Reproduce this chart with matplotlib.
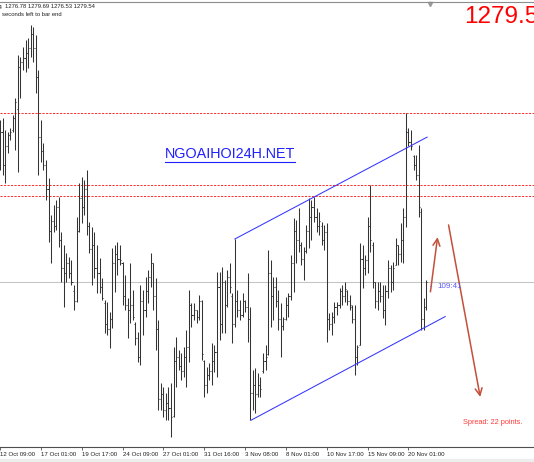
import matplotlib
matplotlib.use('Agg')
import matplotlib.pyplot as plt
from matplotlib.collections import LineCollection
from matplotlib.patches import Rectangle

# XAUUSD H4 bars, oldest first
opens = [1292.5, 1295.5, 1292.0, 1294.0, 1295.2, 1295.8, 1297.0, 1298.0, 1302.5, 1303.0,
         1303.5, 1304.0, 1304.5, 1306.0, 1304.5, 1301.4, 1295.0, 1293.5, 1292.0, 1289.5,
         1285.0, 1286.0, 1285.5, 1287.5, 1284.0, 1281.0, 1280.5, 1281.5, 1280.5, 1278.5,
         1277.5, 1285.0, 1288.5, 1287.5, 1289.5, 1285.5, 1283.0, 1283.5, 1281.0, 1280.5,
         1279.0, 1277.2, 1275.0, 1274.5, 1275.5, 1281.5, 1282.5, 1282.0, 1281.5, 1278.0,
         1277.0, 1276.5, 1277.0, 1275.0, 1273.5, 1271.5, 1277.5, 1276.5, 1278.5, 1280.0,
         1281.5, 1278.0, 1274.5, 1267.0, 1267.5, 1265.8, 1266.5, 1266.0, 1265.2, 1271.0,
         1271.5, 1270.5, 1270.0, 1271.5, 1272.5, 1277.0, 1276.0, 1276.5, 1275.8, 1277.5,
         1271.0, 1268.5, 1269.5, 1270.0, 1271.0, 1272.0, 1279.0, 1275.0, 1279.5, 1277.0,
         1280.0, 1278.0, 1275.0, 1277.5, 1276.5, 1276.0, 1277.5, 1276.8, 1275.5, 1267.6,
         1268.5, 1267.5, 1268.5, 1270.0, 1271.0, 1271.8, 1280.5, 1278.0, 1279.0, 1277.5,
         1275.5, 1274.8, 1275.5, 1277.0, 1278.0, 1281.5, 1285.0, 1284.0, 1283.5, 1282.0,
         1282.8, 1285.0, 1286.5, 1287.5, 1286.5, 1285.5, 1285.5, 1284.0, 1284.8, 1275.5,
         1275.0, 1275.8, 1276.8, 1277.0, 1278.5, 1278.0, 1278.5, 1277.5, 1276.8, 1275.5,
         1271.5, 1272.8, 1282.0, 1281.0, 1281.8, 1285.5, 1283.5, 1279.5, 1277.5, 1278.5,
         1278.0, 1276.5, 1278.5, 1281.0, 1279.5, 1281.3, 1283.5, 1282.5, 1284.0, 1286.5,
         1295.5, 1294.5, 1293.0, 1292.0, 1291.0, 1287.0, 1275.5, 1276.78]
highs = [1296.8, 1297.0, 1295.8, 1295.6, 1296.0, 1297.4, 1299.2, 1303.8, 1303.6, 1304.6,
         1305.4, 1305.6, 1307.0, 1306.8, 1305.9, 1302.2, 1296.8, 1294.4, 1292.6, 1290.6,
         1286.7, 1287.7, 1288.3, 1288.6, 1284.9, 1283.5, 1282.6, 1282.2, 1281.8, 1279.2,
         1286.4, 1290.1, 1290.7, 1290.4, 1291.5, 1285.9, 1285.4, 1284.8, 1283.5, 1282.1,
         1279.9, 1277.6, 1277.4, 1276.3, 1283.1, 1283.5, 1283.8, 1283.5, 1281.6, 1280.2,
         1277.8, 1281.5, 1278.6, 1275.2, 1274.1, 1279.2, 1278.6, 1280.0, 1280.8, 1282.6,
         1281.5, 1279.9, 1275.4, 1268.7, 1268.3, 1267.6, 1268.3, 1268.7, 1272.5, 1273.6,
         1272.2, 1271.9, 1272.5, 1274.4, 1278.6, 1277.2, 1277.2, 1276.5, 1278.1, 1277.6,
         1271.2, 1270.4, 1270.8, 1273.0, 1272.8, 1280.6, 1280.6, 1281.1, 1279.7, 1280.8,
         1281.5, 1278.3, 1284.1, 1278.6, 1277.6, 1278.3, 1277.6, 1280.5, 1276.8, 1270.1,
         1270.3, 1269.8, 1269.3, 1271.9, 1272.8, 1282.9, 1281.8, 1280.0, 1280.0, 1278.6,
         1277.2, 1275.8, 1277.9, 1278.3, 1282.4, 1286.3, 1286.1, 1287.4, 1283.8, 1283.2,
         1285.6, 1288.5, 1288.3, 1288.6, 1287.4, 1287.0, 1285.9, 1285.6, 1285.8, 1276.2,
         1276.3, 1277.4, 1277.4, 1278.9, 1279.2, 1279.5, 1278.6, 1278.1, 1277.0, 1277.0,
         1272.8, 1283.7, 1283.5, 1282.4, 1286.4, 1289.9, 1283.8, 1279.5, 1279.5, 1279.5,
         1279.2, 1279.2, 1281.8, 1281.3, 1281.6, 1284.2, 1283.5, 1285.8, 1287.4, 1297.6,
         1296.0, 1295.8, 1293.1, 1293.1, 1294.2, 1287.4, 1277.8, 1279.69]
lows = [1291.5, 1291.0, 1290.1, 1293.3, 1294.7, 1295.6, 1293.6, 1291.3, 1299.2, 1302.2,
        1302.0, 1302.4, 1303.6, 1303.0, 1299.7, 1291.0, 1292.3, 1291.5, 1288.3, 1283.8,
        1281.5, 1284.9, 1285.1, 1283.2, 1279.5, 1276.8, 1279.5, 1279.9, 1279.2, 1276.5,
        1277.4, 1284.9, 1285.8, 1286.7, 1284.5, 1282.6, 1279.2, 1279.9, 1278.3, 1278.3,
        1277.6, 1274.0, 1273.8, 1272.4, 1274.6, 1278.4, 1280.2, 1281.3, 1277.0, 1276.5,
        1273.5, 1275.1, 1275.4, 1272.8, 1270.9, 1270.6, 1273.8, 1275.8, 1277.2, 1279.0,
        1276.5, 1272.2, 1265.8, 1265.8, 1265.1, 1264.7, 1264.7, 1262.9, 1265.1, 1268.3,
        1270.1, 1269.0, 1269.3, 1268.3, 1270.9, 1274.7, 1275.4, 1275.1, 1275.4, 1271.2,
        1267.2, 1267.6, 1269.0, 1268.5, 1269.9, 1269.3, 1273.3, 1274.0, 1274.0, 1276.8,
        1278.3, 1273.0, 1274.7, 1275.8, 1275.4, 1275.8, 1276.3, 1273.1, 1264.7, 1265.8,
        1265.5, 1267.2, 1267.2, 1269.8, 1270.1, 1271.7, 1274.7, 1275.4, 1276.8, 1274.4,
        1271.5, 1274.4, 1275.4, 1275.8, 1277.6, 1278.4, 1281.5, 1282.7, 1281.3, 1279.7,
        1282.6, 1283.1, 1284.0, 1285.9, 1284.8, 1284.5, 1283.5, 1282.9, 1273.1, 1274.4,
        1273.8, 1275.1, 1276.0, 1276.7, 1277.0, 1277.4, 1277.0, 1276.5, 1275.1, 1269.5,
        1270.6, 1272.8, 1278.9, 1280.2, 1280.5, 1282.7, 1278.9, 1276.7, 1276.5, 1277.4,
        1275.6, 1274.9, 1277.8, 1278.4, 1278.6, 1281.3, 1281.3, 1281.6, 1281.5, 1285.4,
        1294.0, 1293.6, 1291.5, 1290.4, 1286.4, 1274.4, 1274.4, 1276.53]
closes = [1295.5, 1292.0, 1294.0, 1295.2, 1295.6, 1297.0, 1298.8, 1302.5, 1303.0, 1303.5,
          1304.0, 1304.5, 1306.0, 1304.5, 1301.4, 1295.0, 1293.5, 1292.0, 1289.5, 1285.0,
          1286.0, 1285.5, 1287.5, 1284.0, 1281.0, 1280.5, 1281.5, 1280.5, 1279.5, 1277.5,
          1285.0, 1288.5, 1287.5, 1289.5, 1285.5, 1283.0, 1283.5, 1281.0, 1280.5, 1279.0,
          1277.8, 1275.0, 1274.5, 1275.5, 1281.5, 1282.5, 1282.0, 1281.8, 1278.0, 1277.0,
          1276.5, 1277.0, 1275.8, 1273.5, 1271.5, 1277.5, 1276.5, 1278.5, 1280.0, 1281.5,
          1278.0, 1274.5, 1267.0, 1267.5, 1265.8, 1266.5, 1266.0, 1265.0, 1271.0, 1271.5,
          1270.5, 1270.0, 1271.5, 1272.5, 1277.0, 1276.0, 1276.5, 1275.8, 1277.5, 1271.8,
          1268.5, 1269.5, 1270.0, 1271.0, 1272.0, 1279.0, 1275.0, 1279.5, 1277.0, 1280.0,
          1279.0, 1275.0, 1277.5, 1276.5, 1276.0, 1277.5, 1276.8, 1275.5, 1267.6, 1268.5,
          1267.5, 1268.5, 1268.0, 1271.0, 1271.5, 1280.5, 1278.0, 1279.0, 1277.5, 1275.5,
          1274.8, 1275.5, 1277.0, 1278.0, 1281.5, 1285.0, 1284.0, 1283.5, 1282.0, 1282.8,
          1285.0, 1286.5, 1287.5, 1286.5, 1285.5, 1286.0, 1284.0, 1284.8, 1275.5, 1275.0,
          1275.8, 1276.8, 1277.0, 1278.5, 1278.0, 1278.8, 1277.5, 1277.0, 1275.5, 1271.5,
          1272.5, 1282.0, 1281.0, 1281.8, 1285.5, 1284.0, 1279.5, 1277.5, 1278.5, 1278.0,
          1276.5, 1278.5, 1281.0, 1279.5, 1281.0, 1283.5, 1282.5, 1284.0, 1286.5, 1295.5,
          1294.5, 1294.0, 1292.0, 1291.0, 1287.5, 1275.5, 1276.8, 1279.54]

tick_bars = [0, 16, 32, 48, 64, 80, 96, 112, 128, 144, 160]
tick_labels = ['12 Oct 09:00', '17 Oct 01:00', '19 Oct 17:00', '24 Oct 09:00',
               '27 Oct 01:00', '31 Oct 16:00', '3 Nov 08:00', '8 Nov 01:00',
               '10 Nov 17:00', '15 Nov 09:00', '20 Nov 01:00']

level_prices = [1297.63, 1289.87, 1288.70]
bid_price = 1279.54
channel_top = [(92, 1284.1), (167.3, 1295.0)]
channel_bottom = [(98.3, 1264.7), (174.4, 1275.8)]
arrow_up = [(168.6, 1278.45), (171.4, 1284.3)]
arrow_down = [(175.7, 1285.6), (188.1, 1267.2)]

W, H = 534, 462
plt.rcParams['font.family'] = ['Liberation Sans', 'DejaVu Sans']

fig = plt.figure(figsize=(W / 100, H / 100), dpi=100)
fig.patch.set_facecolor('white')
ax = fig.add_axes([0, 15 / H, 1, 445 / H])
ax.set_xlim(0.78, 209.17)
ax.set_ylim(1261.84, 1309.46)

# OHLC bars: high-low line, open tick left, close tick right
segs = []
for i in range(len(opens)):
    segs.append([(i, lows[i]), (i, highs[i])])
    segs.append([(i - 0.42, opens[i]), (i, opens[i])])
    segs.append([(i, closes[i]), (i + 0.42, closes[i])])
ax.add_collection(LineCollection(segs, colors='#333333', linewidths=0.75, zorder=3))

for p in level_prices:
    ax.axhline(p, color='#ff2a2a', lw=0.7, ls=(0, (2.2, 1.4)), zorder=2)
ax.axhline(bid_price, color='#c4c4c4', lw=0.75, zorder=1)

for ch in (channel_top, channel_bottom):
    ax.plot([ch[0][0], ch[1][0]], [ch[0][1], ch[1][1]], color='#3535ff', lw=0.75, zorder=4)

for a in (arrow_up, arrow_down):
    ax.annotate('', xy=a[1], xytext=a[0],
                arrowprops=dict(arrowstyle='->,head_length=0.5,head_width=0.25',
                                color='#c4503c', lw=1.1, shrinkA=0, shrinkB=0))

# axes frame
for s in ('left', 'right'):
    ax.spines[s].set_visible(False)
ax.spines['bottom'].set_color('#505050')
ax.spines['bottom'].set_linewidth(0.8)
ax.spines['top'].set_color('#8c8c8c')
ax.spines['top'].set_linewidth(0.8)
ax.set_yticks([])
ax.set_xticks(tick_bars)
ax.set_xticklabels(tick_labels)
ax.tick_params(axis='x', direction='out', length=2.5, width=0.6, color='#505050',
               pad=1.2, labelsize=4.4, labelcolor='#202020')
for lbl in ax.get_xticklabels():
    lbl.set_horizontalalignment('left')

# texts
fig.text(2.5 / W, 1 - 7 / H, 'XAUUSD,H4', fontsize=4.2, color='#202020', ha='right', va='center')
fig.text(5 / W, 1 - 7 / H, '1276.78 1279.69 1276.53 1279.54', fontsize=4.2,
         color='#202020', va='center')
fig.text(2 / W, 1 - 15 / H, 'seconds left to bar end', fontsize=4.2, color='#202020', va='center')
fig.text(464 / W, 1 - 17 / H, '1279.54', fontsize=17.5, color='#ff0000', va='center',
         family=['Liberation Sans Narrow', 'Liberation Sans'])
fig.text(165 / W, 1 - 154 / H, 'NGOAIHOI24H.NET', fontsize=10.4, color='#1f1fff', va='center')
fig.add_artist(plt.Line2D([165 / W, 295 / W], [1 - 161.5 / H, 1 - 161.5 / H],
                          color='#1f1fff', lw=0.8))
fig.text(430 / W, 1 - 287 / H, '-', fontsize=5.5, color='#5a5aff', va='center')
fig.text(437 / W, 1 - 287 / H, '109:41', fontsize=5.8, color='#5a5aff', va='center')
fig.text(463 / W, 1 - 422.5 / H, 'Spread: 22 points.', fontsize=5.3, color='#ff3a3a', va='center')

# chart shift marker and bottom window edge
ax.plot([430 / W], [1 - 3.5 / H], marker='v', ms=3, color='#9a9a9a',
        transform=fig.transFigure, clip_on=False)
fig.patches.append(Rectangle((0, 0), 1, 3.5 / H, transform=fig.transFigure,
                             color='#eeeeee', zorder=0))

fig.savefig('out.png', dpi=100)
